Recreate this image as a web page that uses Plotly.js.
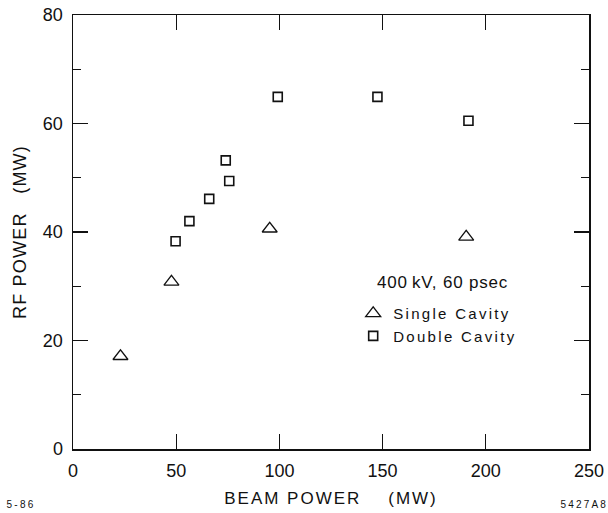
<!DOCTYPE html>
<html>
<head>
<meta charset="utf-8">
<script src="https://cdn.plot.ly/plotly-3.0.1.min.js"></script>
<style>
html,body{margin:0;padding:0;background:#fff;}
#chart{width:608px;height:513px;}
#chart .legend .scrollbox{clip-path:none !important;}
#chart .legendtext{letter-spacing:2.3px;}
#chart .xtitle{letter-spacing:2px;}
#chart .ytitle{letter-spacing:1.2px;}
#chart .annotation-text{letter-spacing:0.8px;}
#chart .annotation[data-index="1"] .annotation-text,
#chart .annotation[data-index="2"] .annotation-text{letter-spacing:2.2px;}
</style>
</head>
<body>
<div id="chart"></div>
<script>
// Data
const singleBeam = [23.0, 47.7, 95.3, 190.5];
const singleRF   = [17.1, 30.8, 40.6, 39.1];
const doubleBeam = [49.7, 56.4, 66.0, 74.0, 75.7, 99.2, 147.5, 191.6];
const doubleRF   = [38.3, 42.0, 46.1, 53.2, 49.4, 64.9, 64.9, 60.5];
const xTicks = [0, 50, 100, 150, 200, 250];
const yTicks = [0, 20, 40, 60, 80];
const legendTitle = '400\u2009kV, 60 psec';
const seriesNames = ['Single Cavity', 'Double Cavity'];
const cornerLeft = '5-86';
const cornerRight = '5427A8';

const FONT = 'Liberation Sans, Arial, sans-serif';
const NARROW = 'Liberation Sans Narrow, Liberation Sans, Arial, sans-serif';

const traces = [
  {x: singleBeam, y: singleRF, name: seriesNames[0], type: 'scatter', mode: 'markers',
   marker: {symbol: 'triangle-up-open', size: 13, color: '#111', line: {width: 1.3, color: '#111'}}},
  {x: doubleBeam, y: doubleRF, name: seriesNames[1], type: 'scatter', mode: 'markers',
   marker: {symbol: 'square-open', size: 9, color: '#111', line: {width: 1.6, color: '#111'}}}
];

const layout = {
  width: 608, height: 513,
  margin: {l: 73, r: 19, t: 15, b: 64},
  paper_bgcolor: '#fff', plot_bgcolor: '#fff',
  font: {family: FONT, color: '#111', size: 17},
  showlegend: true,
  legend: {
    x: 0.543, y: 0.35, xanchor: 'left', yanchor: 'top',
    bgcolor: 'rgba(0,0,0,0)',
    font: {family: FONT, size: 15, color: '#111'},
    tracegroupgap: 0, itemwidth: 30
  },
  xaxis: {
    range: [0, 250], tickvals: xTicks, ticktext: xTicks.map(String),
    showgrid: false, zeroline: false,
    showline: true, linecolor: '#111', linewidth: 1.5, mirror: 'ticks',
    ticks: 'inside', ticklen: 15, tickwidth: 1.2, tickcolor: '#111',
    ticklabelstandoff: 5,
    tickfont: {family: NARROW, size: 18, color: '#111'},
    title: {text: 'BEAM POWER\u00a0\u00a0\u00a0\u00a0(MW)', font: {family: FONT, size: 17, color: '#111'}, standoff: 12}
  },
  yaxis: {
    range: [0, 80], tickvals: yTicks, ticktext: yTicks.map(String),
    showgrid: false, zeroline: false,
    showline: true, linecolor: '#111', linewidth: 1.5, mirror: 'ticks',
    ticks: 'inside', ticklen: 15, tickwidth: 1.2, tickcolor: '#111',
    ticklabelstandoff: 5,
    tickfont: {family: NARROW, size: 18, color: '#111'},
    minor: {dtick: 10, tick0: 0, ticks: 'inside', ticklen: 8, tickwidth: 1.2, tickcolor: '#111', showgrid: false},
    title: {text: 'RF POWER\u00a0\u00a0\u00a0(MW)', font: {family: FONT, size: 18, color: '#111'}, standoff: 11}
  },
  annotations: [
    {text: legendTitle, xref: 'paper', yref: 'paper', x: 0.597, y: 0.383, xanchor: 'left', yanchor: 'middle',
     showarrow: false, font: {family: FONT, size: 17, color: '#111'}},
    {text: cornerLeft, xref: 'paper', yref: 'paper', x: -0.125, y: -0.129, xanchor: 'left', yanchor: 'middle',
     showarrow: false, font: {family: FONT, size: 10, color: '#111'}},
    {text: cornerRight, xref: 'paper', yref: 'paper', x: 1.03, y: -0.129, xanchor: 'right', yanchor: 'middle',
     showarrow: false, font: {family: FONT, size: 10, color: '#111'}}
  ]
};

Plotly.newPlot('chart', traces, layout, {displayModeBar: false, staticPlot: true});
</script>
</body>
</html>
